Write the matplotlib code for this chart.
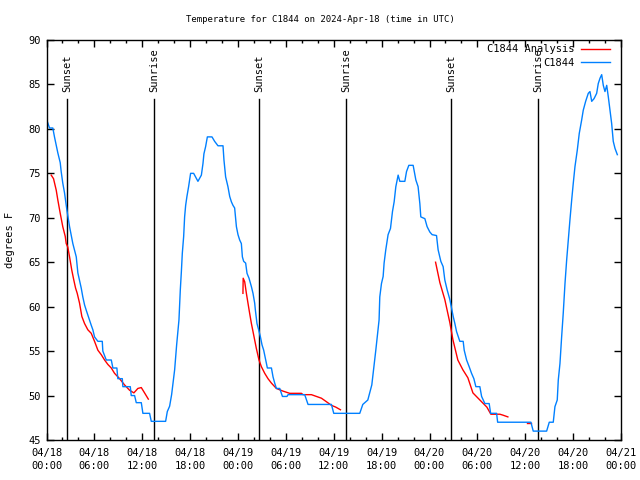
import matplotlib
matplotlib.use("Agg")
import matplotlib.pyplot as plt
from matplotlib.ticker import MultipleLocator, FixedLocator

plt.rcParams['font.family'] = ['DejaVu Sans Mono']
plt.rcParams['font.size'] = 7.5

# hours since 2024-04-18 00:00 UTC
obs_h = [0.0, 0.38, 0.79, 1.0, 1.42, 1.72, 1.84, 2.04, 2.26, 2.55, 2.89, 3.30, 3.73, 3.93,
         4.35, 4.55, 4.77, 4.98, 5.31, 5.61, 5.81, 6.02, 6.44, 6.99, 7.06, 7.49, 8.12, 8.32,
         8.82, 8.94, 9.50, 9.57, 10.50, 10.62, 11.04, 11.25, 11.88, 12.08, 12.92, 13.13,
         14.93, 15.14, 15.43, 15.68, 16.06, 16.31, 16.60, 16.77, 16.90, 17.02, 17.19, 17.31,
         17.44, 17.60, 17.81, 18.06, 18.44, 18.98, 19.41, 19.61, 19.73, 19.94, 20.16, 20.74,
         21.07, 21.49, 22.12, 22.24, 22.45, 22.74, 22.96, 23.17, 23.37, 23.58, 23.80, 24.00,
         24.21, 24.42, 24.55, 24.71, 24.96, 25.13, 25.38, 25.68, 25.88, 26.09, 26.18, 26.38,
         26.59, 26.81, 27.01, 27.22, 27.43, 27.68, 28.19, 28.39, 28.60, 28.81, 29.23, 29.57,
         30.14, 30.27, 32.36, 32.78, 35.71, 36.00, 39.26, 39.64, 40.27, 40.77, 41.27, 41.68,
         41.77, 41.98, 42.19, 42.31, 42.52, 42.81, 43.11, 43.36, 43.57, 43.78, 44.07, 44.28,
         44.91, 45.12, 45.41, 45.95, 46.29, 46.57, 46.79, 46.91, 47.42, 47.70, 48.04, 48.33,
         48.88, 49.08, 49.42, 49.71, 49.92, 50.21, 50.55, 50.77, 50.97, 51.18, 51.39, 51.80,
         52.22, 52.35, 52.65, 52.97, 53.27, 53.56, 53.81, 54.31, 54.53, 54.94, 55.48, 55.66,
         56.41, 56.54, 60.71, 61.00, 62.68, 63.01, 63.51, 63.72, 64.01, 64.14, 64.35, 64.56,
         64.76, 64.98, 65.19, 65.39, 65.60, 65.82, 66.02, 66.23, 66.52, 66.77, 67.07, 67.27,
         67.57, 67.90, 68.11, 68.33, 68.62, 68.95, 69.15, 69.37, 69.58, 69.78, 69.99, 70.21,
         70.41, 70.62, 70.83, 71.03, 71.25, 71.54]
obs_t = [81.1, 80.1, 80.1, 79.1, 77.3, 76.2, 75.2, 73.9, 72.8, 70.9, 69.0, 67.1, 65.6, 63.8,
         62.1, 61.1, 60.2, 59.6, 58.7, 57.9, 57.4, 56.6, 56.1, 56.1, 55.0, 54.0, 54.0, 53.1,
         53.1, 51.9, 51.9, 51.0, 51.0, 50.0, 50.0, 49.2, 49.2, 48.0, 48.0, 47.1,
         47.1, 48.2, 48.8, 50.1, 52.9, 55.7, 58.5, 61.9, 63.9, 66.0, 67.9, 70.1,
         71.4, 72.4, 73.5, 75.0, 75.0, 74.1, 74.8, 76.1, 77.2, 78.0, 79.1, 79.1,
         78.6, 78.1, 78.1, 76.5, 74.6, 73.5, 72.4, 71.8, 71.4, 71.1, 69.0, 68.1,
         67.5, 67.1, 65.6, 65.1, 64.9, 63.75, 63.2, 62.25, 61.5, 60.4, 59.6, 58.1,
         57.4, 56.6, 55.7, 55.1, 54.2, 53.1, 53.1, 52.1, 51.4, 50.8, 50.8, 49.9,
         49.9, 50.1, 50.1, 49.0, 49.0, 48.0, 48.0, 49.0, 49.5, 51.2, 55.1, 58.5,
         61.1, 62.6, 63.4, 64.9, 66.4, 68.1, 68.8, 70.7, 71.8, 73.5, 74.8, 74.1,
         74.1, 75.2, 75.9, 75.9, 74.25, 73.5, 71.6, 70.1, 69.9, 69.0, 68.4, 68.1,
         68.0, 66.4, 65.1, 64.5, 63.0, 61.9, 60.8, 59.8, 58.9, 58.1, 57.2, 56.1,
         56.1, 55.1, 54.0, 53.25, 52.5, 51.9, 51.0, 51.0, 49.9, 49.1, 49.1, 48.0,
         48.0, 47.0, 47.0, 46.0, 46.0, 47.0, 47.0, 48.75, 49.5, 51.75, 53.6, 56.6,
         59.25, 62.6, 65.25, 67.5, 69.75, 72.0, 73.9, 75.75, 77.6, 79.5, 81.0, 82.1,
         83.1, 84.0, 84.2, 83.1, 83.4, 84.0, 85.1, 85.7, 86.1, 84.9, 84.2, 84.9,
         83.6, 82.1, 80.6, 78.6, 77.8, 77.1]

ana1_h = [0.59, 0.88, 1.22, 1.42, 1.72, 2.04, 2.35, 2.47, 2.67, 2.89, 3.17, 3.42, 3.64, 3.85,
          4.14, 4.43, 4.77, 5.18, 5.61, 6.02, 6.44, 6.86, 7.28, 7.69, 8.12, 8.53, 9.16, 9.78,
          10.41, 10.95, 11.45, 11.88, 12.29, 12.76]
ana1_t = [74.8, 74.4, 73.1, 72.0, 70.5, 69.0, 67.9, 67.1, 66.7, 65.6, 64.1, 63.0, 62.1, 61.5,
          60.4, 58.9, 58.1, 57.4, 57.0, 56.1, 55.1, 54.6, 54.0, 53.5, 53.1, 52.5, 51.9, 51.2,
          50.6, 50.3, 50.8, 50.9, 50.3, 49.6]
ana2_h = [24.62, 24.65, 24.84, 25.05, 25.25, 25.46, 25.68, 25.88, 26.09, 26.30, 26.63, 26.93,
          27.35, 27.76, 28.19, 28.81, 29.64, 30.48, 31.95, 32.15, 33.20, 33.83, 34.46, 35.09,
          35.71, 36.25, 36.84]
ana2_t = [61.5, 63.2, 62.8, 61.5, 60.4, 59.25, 58.1, 57.2, 56.25, 55.3, 54.0, 53.25,
          52.5, 51.9, 51.4, 50.8, 50.5, 50.25, 50.25, 50.1, 50.1, 49.9, 49.7, 49.3,
          48.9, 48.7, 48.4]
ana3_h = [48.76, 49.30, 49.92, 50.55, 50.93, 51.55, 52.18, 52.81, 53.44, 54.31, 55.19, 55.69,
          56.82, 57.19, 57.82]
ana3_t = [65.0, 62.7, 60.8, 58.2, 56.3, 54.0, 52.9, 52.0, 50.3, 49.5, 48.7, 47.9,
          47.9, 47.8, 47.6]
ana4_h = [60.21, 60.71]
ana4_t = [46.9, 46.9]

sun_h = [2.51, 13.42, 26.59, 37.51, 50.68, 61.59]
sun_lbl = ["Sunset", "Sunrise", "Sunset", "Sunrise", "Sunset", "Sunrise"]

xtick_h = [0, 6, 12, 18, 24, 30, 36, 42, 48, 54, 60, 66, 72]
xtick_lbl = ["04/18\n00:00", "04/18\n06:00", "04/18\n12:00", "04/18\n18:00",
             "04/19\n00:00", "04/19\n06:00", "04/19\n12:00", "04/19\n18:00",
             "04/20\n00:00", "04/20\n06:00", "04/20\n12:00", "04/20\n18:00",
             "04/21\n00:00"]

RED = "#ff0000"
BLUE = "#0080ff"

fig = plt.figure(figsize=(6.4, 4.8), dpi=100)
ax = fig.add_axes([46.5/640, 1-440/480, (621-46.5)/640, 400/480])

for h, lab in zip(sun_h, sun_lbl):
    ax.plot([h, h], [45, 83.35], color="black", lw=1.0)
    ax.text(h + 0.1, 84.15, lab, rotation=90, ha="center", va="bottom", fontsize=7.5)

ax.plot(ana1_h, ana1_t, color=RED, lw=1.0, label="C1844 Analysis")
for hh, tt in ((ana2_h, ana2_t), (ana3_h, ana3_t), (ana4_h, ana4_t)):
    ax.plot(hh, tt, color=RED, lw=1.0)
ax.plot(obs_h, obs_t, color=BLUE, lw=1.0, label="C1844")

ax.set_xlim(0, 72)
ax.set_ylim(45, 90)
ax.xaxis.set_major_locator(FixedLocator(xtick_h))
ax.set_xticklabels(xtick_lbl, linespacing=1.35)
ax.xaxis.set_minor_locator(MultipleLocator(2))
ax.yaxis.set_major_locator(MultipleLocator(5))
ax.tick_params(which="both", direction="in", top=True, right=True, width=1, colors="black")
ax.tick_params(which="major", length=5)
ax.tick_params(which="minor", length=2.5)
ax.tick_params(axis="x", pad=6)
ax.tick_params(axis="y", pad=4)
for s in ax.spines.values():
    s.set_linewidth(1)

ax.set_ylabel("degrees F", labelpad=10)
fig.text(0.5, 1-19/480, "Temperature for C1844 on 2024-Apr-18 (time in UTC)",
         ha="center", va="center", fontsize=6.5)

ax.legend(loc="upper right", bbox_to_anchor=(1 - 7/574.5, 1),
          markerfirst=False, frameon=False, handlelength=2.8,
          handletextpad=0.6, borderaxespad=0.2, labelspacing=0.35, fontsize=7.5,
          borderpad=0.2)

fig.savefig("out.png", dpi=100)
